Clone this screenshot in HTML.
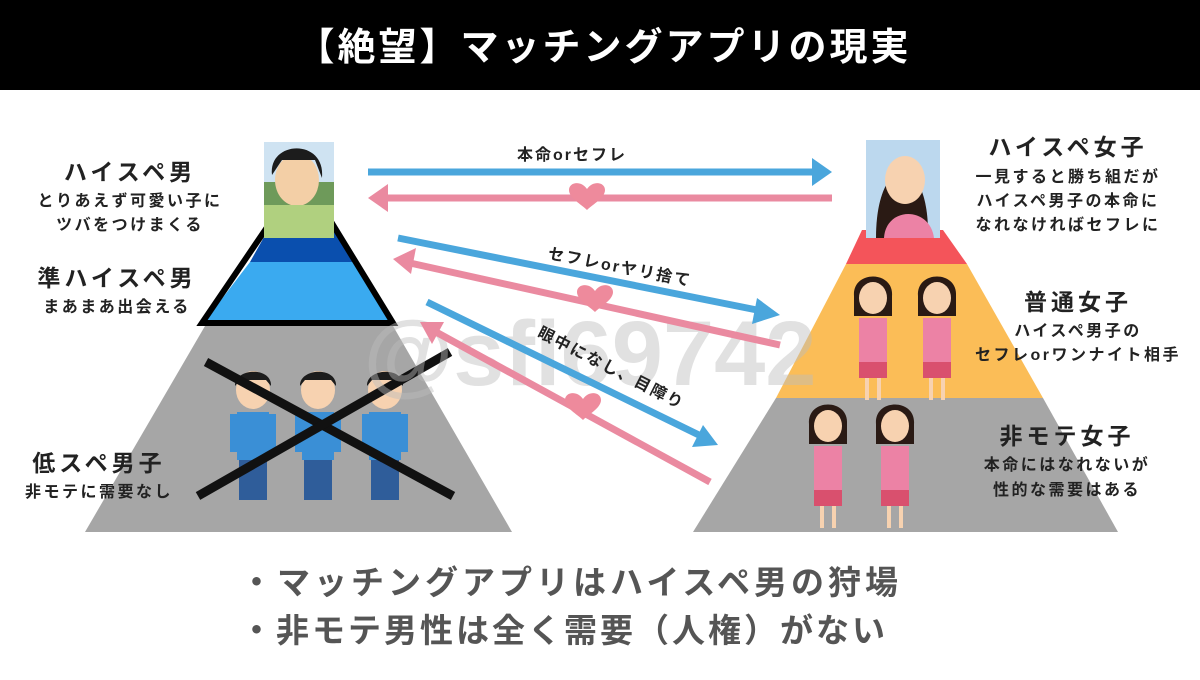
<!DOCTYPE html>
<html><head><meta charset="utf-8"><style>
html,body{margin:0;padding:0;background:#fff;}
svg text{font-family:"Liberation Sans","Noto Sans CJK JP",sans-serif;font-weight:bold;}
.h{letter-spacing:4px;}
.s{letter-spacing:2.5px;}
</style></head><body>
<svg width="1200" height="675" viewBox="0 0 1200 675" xmlns="http://www.w3.org/2000/svg">
<defs>
<g id="heart"><path d="M0,14 C-6,8 -18,2 -18,-6 C-18,-14 -6,-16 0,-7 C6,-16 18,-14 18,-6 C18,2 6,8 0,14Z" fill="#ee8a9c"/></g>
<g id="boy">
<ellipse cx="0" cy="0" rx="17" ry="19" fill="#f7d2b0"/>
<path d="M-18,-4 C-19,-22 19,-24 18,-4 L13,-10 L-13,-10Z" fill="#1c1c1c"/>
<rect x="-16" y="22" width="32" height="48" fill="#3a8fd6"/>
<rect x="-23" y="24" width="8" height="38" fill="#3a8fd6"/><rect x="15" y="24" width="8" height="38" fill="#3a8fd6"/>
<rect x="-14" y="70" width="28" height="40" fill="#2f5d9a"/>
</g>
<g id="girl">
<path d="M-19,0 C-21,-26 21,-26 19,0 L19,20 L-19,20Z" fill="#2a1a14"/>
<ellipse cx="0" cy="2" rx="14" ry="16" fill="#f7d2b0"/>
<rect x="-14" y="22" width="28" height="44" fill="#ec82a5"/>
<rect x="-14" y="66" width="28" height="16" fill="#d9506e"/>
<rect x="-8" y="82" width="4" height="22" fill="#f7d2b0"/><rect x="4" y="82" width="4" height="22" fill="#f7d2b0"/>
</g>
</defs>
<rect x="0" y="0" width="1200" height="90" fill="#000"/>
<text x="604" y="60" text-anchor="middle" font-size="38" fill="#fff" letter-spacing="3">【絶望】マッチングアプリの現実</text>

<polygon points="205,326 393,326 512,532 85,532" fill="#a6a6a6"/>
<polygon points="268,230 334,230 353,262 250,262" fill="#0a4fae"/>
<polygon points="250,262 353,262 390,321 205,321" fill="#3aaaf0"/>
<polygon points="272,220 330,220 393,323 202,323" fill="none" stroke="#000" stroke-width="6"/>
<rect x="264" y="142" width="70" height="96" fill="#6e9a5a"/>
<rect x="264" y="142" width="70" height="40" fill="#cfe3f2"/>
<ellipse cx="297" cy="180" rx="22" ry="26" fill="#f3cfa6"/>
<path d="M272,175 C268,140 326,138 322,178 L315,160 L282,160Z" fill="#1c1c1c"/>
<rect x="264" y="205" width="70" height="33" fill="#b0d07f"/>

<use href="#boy" x="253" y="390"/>
<use href="#boy" x="318" y="390"/>
<use href="#boy" x="385" y="390"/>
<line x1="206" y1="362" x2="453" y2="496" stroke="#111" stroke-width="9"/>
<line x1="198" y1="496" x2="450" y2="352" stroke="#111" stroke-width="9"/>

<polygon points="862,230 943,230 967,264 846,264" fill="#f4545a"/>
<polygon points="846,264 967,264 1043,398 776,398" fill="#fbbd57"/>
<polygon points="776,398 1043,398 1118,532 693,532" fill="#a6a6a6"/>
<rect x="866" y="140" width="74" height="98" fill="#bcd8ee"/>
<path d="M876,238 C876,150 930,150 928,238Z" fill="#2a1a14"/>
<ellipse cx="905" cy="180" rx="20" ry="24" fill="#f7d2b0"/>
<path d="M884,238 C886,206 930,206 934,238Z" fill="#ec82a5"/>
<use href="#girl" x="873" y="296"/>
<use href="#girl" x="937" y="296"/>
<use href="#girl" x="828" y="424"/>
<use href="#girl" x="895" y="424"/>

<text x="590" y="385" text-anchor="middle" font-size="92" fill="#bdbdbd" opacity="0.45">@sfi69742</text>

<g stroke-width="7" fill="none">
<line x1="368" y1="172" x2="815" y2="172" stroke="#4aa6dc"/>
<line x1="832" y1="198" x2="385" y2="198" stroke="#ea8aa0"/>
<line x1="398" y1="238" x2="762" y2="311" stroke="#4aa6dc"/>
<line x1="780" y1="345" x2="410" y2="263" stroke="#ea8aa0"/>
<line x1="427" y1="302" x2="703" y2="437" stroke="#4aa6dc"/>
<line x1="710" y1="482" x2="436" y2="332" stroke="#ea8aa0"/>
</g>
<polygon points="832,172 812,158 812,186" fill="#4aa6dc"/>
<polygon points="368,198 388,184 388,212" fill="#ea8aa0"/>
<polygon points="780,315 757,298 752,324" fill="#4aa6dc"/>
<polygon points="393,259 416,248 411,274" fill="#ea8aa0"/>
<polygon points="718,445 703,425 692,447" fill="#4aa6dc"/>
<polygon points="420,322 444,322 432,344" fill="#ea8aa0"/>
<use href="#heart" x="587" y="196"/>
<use href="#heart" x="595" y="298"/>
<use href="#heart" x="583" y="406"/>

<text x="572" y="160" text-anchor="middle" font-size="16" fill="#222" letter-spacing="2">本命orセフレ</text>
<text x="619" y="272" text-anchor="middle" font-size="16" fill="#222" letter-spacing="2" transform="rotate(11 617 272)">セフレorヤリ捨て</text>
<text x="609" y="372" text-anchor="middle" font-size="16" fill="#222" letter-spacing="2" transform="rotate(27 607 372)">眼中になし、目障り</text>

<g fill="#222" text-anchor="middle">
<text class="h" x="130" y="180" font-size="23">ハイスペ男</text>
<text class="s" x="130" y="206" font-size="16">とりあえず可愛い子に</text>
<text class="s" x="130" y="230" font-size="16">ツバをつけまくる</text>
<text class="h" x="117" y="286" font-size="23">準ハイスペ男</text>
<text class="s" x="117" y="312" font-size="16">まあまあ出会える</text>
<text class="h" x="99" y="471" font-size="23">低スペ男子</text>
<text class="s" x="99" y="497" font-size="16">非モテに需要なし</text>
<text class="h" x="1068" y="155" font-size="23">ハイスペ女子</text>
<text class="s" x="1068" y="182" font-size="16">一見すると勝ち組だが</text>
<text class="s" x="1068" y="206" font-size="16">ハイスペ男子の本命に</text>
<text class="s" x="1068" y="230" font-size="16">なれなければセフレに</text>
<text class="h" x="1078" y="310" font-size="23">普通女子</text>
<text class="s" x="1078" y="336" font-size="16">ハイスペ男子の</text>
<text class="s" x="1078" y="360" font-size="16">セフレorワンナイト相手</text>
<text class="h" x="1067" y="444" font-size="23">非モテ女子</text>
<text class="s" x="1067" y="470" font-size="16">本命にはなれないが</text>
<text class="s" x="1067" y="495" font-size="16">性的な需要はある</text>
</g>
<text x="240" y="594" font-size="33" fill="#555" letter-spacing="4">・マッチングアプリはハイスペ男の狩場</text>
<text x="240" y="642" font-size="33" fill="#555" letter-spacing="3">・非モテ男性は全く需要（人権）がない</text>
</svg>
</body></html>
